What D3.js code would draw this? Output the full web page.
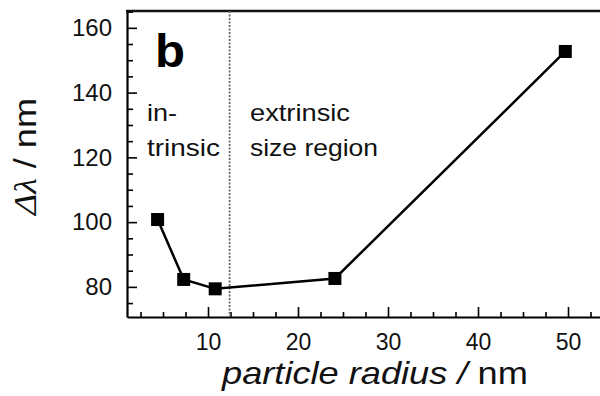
<!DOCTYPE html>
<html>
<head>
<meta charset="utf-8">
<script src="https://cdn.jsdelivr.net/npm/d3@7"></script>
<style>
  html, body { margin: 0; padding: 0; background: #fff; }
  svg { display: block; }
</style>
</head>
<body>
<svg id="chart" width="600" height="396"></svg>
<script>
// ---- data ----
const radius = [4.4, 7.3, 10.8, 24.1, 49.7];          // particle radius / nm
const deltaLambda = [100.8, 82.3, 79.4, 82.6, 152.7];  // Δλ / nm
const xMajorTicks = [10, 20, 30, 40, 50];
const xMinorTicks = [2.5, 5, 7.5, 12.5, 15, 17.5, 22.5, 25, 27.5, 32.5, 35, 37.5, 42.5, 45, 47.5, 52.5];
const yMajorTicks = [80, 100, 120, 140, 160];
const yMinorTicks = [75, 85, 90, 95, 105, 110, 115, 125, 130, 135, 145, 150, 155, 165];
const regionBoundary = [12.4];
const annotations = [
  { text: "in-", x: 147, y: 121, len: 30 },
  { text: "trinsic", x: 147, y: 156, len: 73 },
  { text: "extrinsic", x: 250, y: 121, len: 100 },
  { text: "size region", x: 250, y: 156, len: 128 }
];

(function () {
const svg = d3.select("#chart");
const mLeft = 127, mRight = 600, mTop = 11, mBottom = 317;

const x = d3.scaleLinear().domain([1, 1 + (mRight - mLeft) / 9]).range([mLeft, mRight]);
const y = d3.scaleLinear().domain([70.7, 165.2]).range([mBottom, mTop]);

const font = "'Liberation Sans', Arial, Helvetica, sans-serif";

// minor ticks
svg.append("g").attr("transform", `translate(0,${mBottom})`)
  .call(d3.axisBottom(x).tickValues(xMinorTicks).tickSize(-5).tickSizeOuter(0).tickFormat(""))
  .call(g => g.select(".domain").remove())
  .call(g => g.selectAll("line").attr("stroke", "#000").attr("stroke-width", 1.6));
svg.append("g").attr("transform", `translate(${mLeft},0)`)
  .call(d3.axisLeft(y).tickValues(yMinorTicks).tickSize(-6).tickSizeOuter(0).tickFormat(""))
  .call(g => g.select(".domain").remove())
  .call(g => g.selectAll("line").attr("stroke", "#000").attr("stroke-width", 1.6));

// major axes
svg.append("g").attr("transform", `translate(0,${mBottom})`)
  .call(d3.axisBottom(x).tickValues(xMajorTicks).tickSize(-10).tickSizeOuter(0).tickPadding(17).tickFormat(d3.format("d")))
  .call(g => g.select(".domain").attr("stroke", "#000").attr("stroke-width", 2.2))
  .call(g => g.selectAll("line").attr("stroke", "#000").attr("stroke-width", 1.6))
  .call(g => g.selectAll("text").attr("font-family", font).attr("font-size", 23).attr("fill", "#111"));
svg.append("g").attr("transform", `translate(${mLeft},0)`)
  .call(d3.axisLeft(y).tickValues(yMajorTicks).tickSize(-10).tickSizeOuter(0).tickPadding(15).tickFormat(d3.format("d")))
  .call(g => g.select(".domain").attr("stroke", "#000").attr("stroke-width", 2.2))
  .call(g => g.selectAll("line").attr("stroke", "#000").attr("stroke-width", 1.6))
  .call(g => g.selectAll("text").attr("font-family", font).attr("font-size", 24).attr("fill", "#111"));

// top frame line
svg.append("line")
  .attr("x1", mLeft - 1).attr("x2", mRight).attr("y1", mTop).attr("y2", mTop)
  .attr("stroke", "#111").attr("stroke-width", 2.6);

// dotted boundary
svg.selectAll(".boundary").data(regionBoundary).join("line")
  .attr("class", "boundary")
  .attr("x1", d => x(d)).attr("x2", d => x(d))
  .attr("y1", mTop).attr("y2", mBottom)
  .attr("stroke", "#666").attr("stroke-width", 1.8).attr("stroke-dasharray", "2,1.5");

// data line
const pts = radius.map((r, i) => [r, deltaLambda[i]]);
svg.append("path").datum(pts)
  .attr("fill", "none").attr("stroke", "#000").attr("stroke-width", 2.5)
  .attr("d", d3.line().x(d => x(d[0])).y(d => y(d[1])));

// markers
const ms = 13;
svg.selectAll(".pt").data(pts).join("rect")
  .attr("class", "pt")
  .attr("x", d => x(d[0]) - ms / 2).attr("y", d => y(d[1]) - ms / 2)
  .attr("width", ms).attr("height", ms).attr("fill", "#000");

// panel letter
svg.append("text").attr("x", 155).attr("y", 67)
  .attr("font-family", font).attr("font-weight", "bold").attr("font-size", 46)
  .attr("textLength", 30).attr("lengthAdjust", "spacingAndGlyphs")
  .attr("fill", "#000").text("b");

// annotations
svg.selectAll(".ann").data(annotations).join("text")
  .attr("class", "ann")
  .attr("x", d => d.x).attr("y", d => d.y)
  .attr("font-family", font).attr("font-size", 24).attr("fill", "#111")
  .attr("textLength", d => d.len).attr("lengthAdjust", "spacingAndGlyphs")
  .text(d => d.text);

// x axis title
const xt = svg.append("g").attr("transform", "translate(222,384)");
const xtText = xt.append("text").attr("font-family", font).attr("font-size", 32).attr("fill", "#111");
xtText.append("tspan").attr("font-style", "italic").text("particle radius / ");
xtText.append("tspan").text("nm");
const xw = xtText.node().getComputedTextLength();
xtText.attr("transform", `scale(${306 / xw},1)`);

// y axis title
const yt = svg.append("g").attr("transform", "translate(36,215) rotate(-90)");
const ytText = yt.append("text").attr("font-size", 32).attr("fill", "#111");
ytText.append("tspan").attr("font-family", "'Liberation Serif', 'Times New Roman', serif").attr("font-style", "italic").text("Δλ");
ytText.append("tspan").attr("font-family", font).text(" / nm");
const yw = ytText.node().getComputedTextLength();
ytText.attr("transform", `scale(${117 / yw},1)`);
})();
</script>
</body>
</html>
